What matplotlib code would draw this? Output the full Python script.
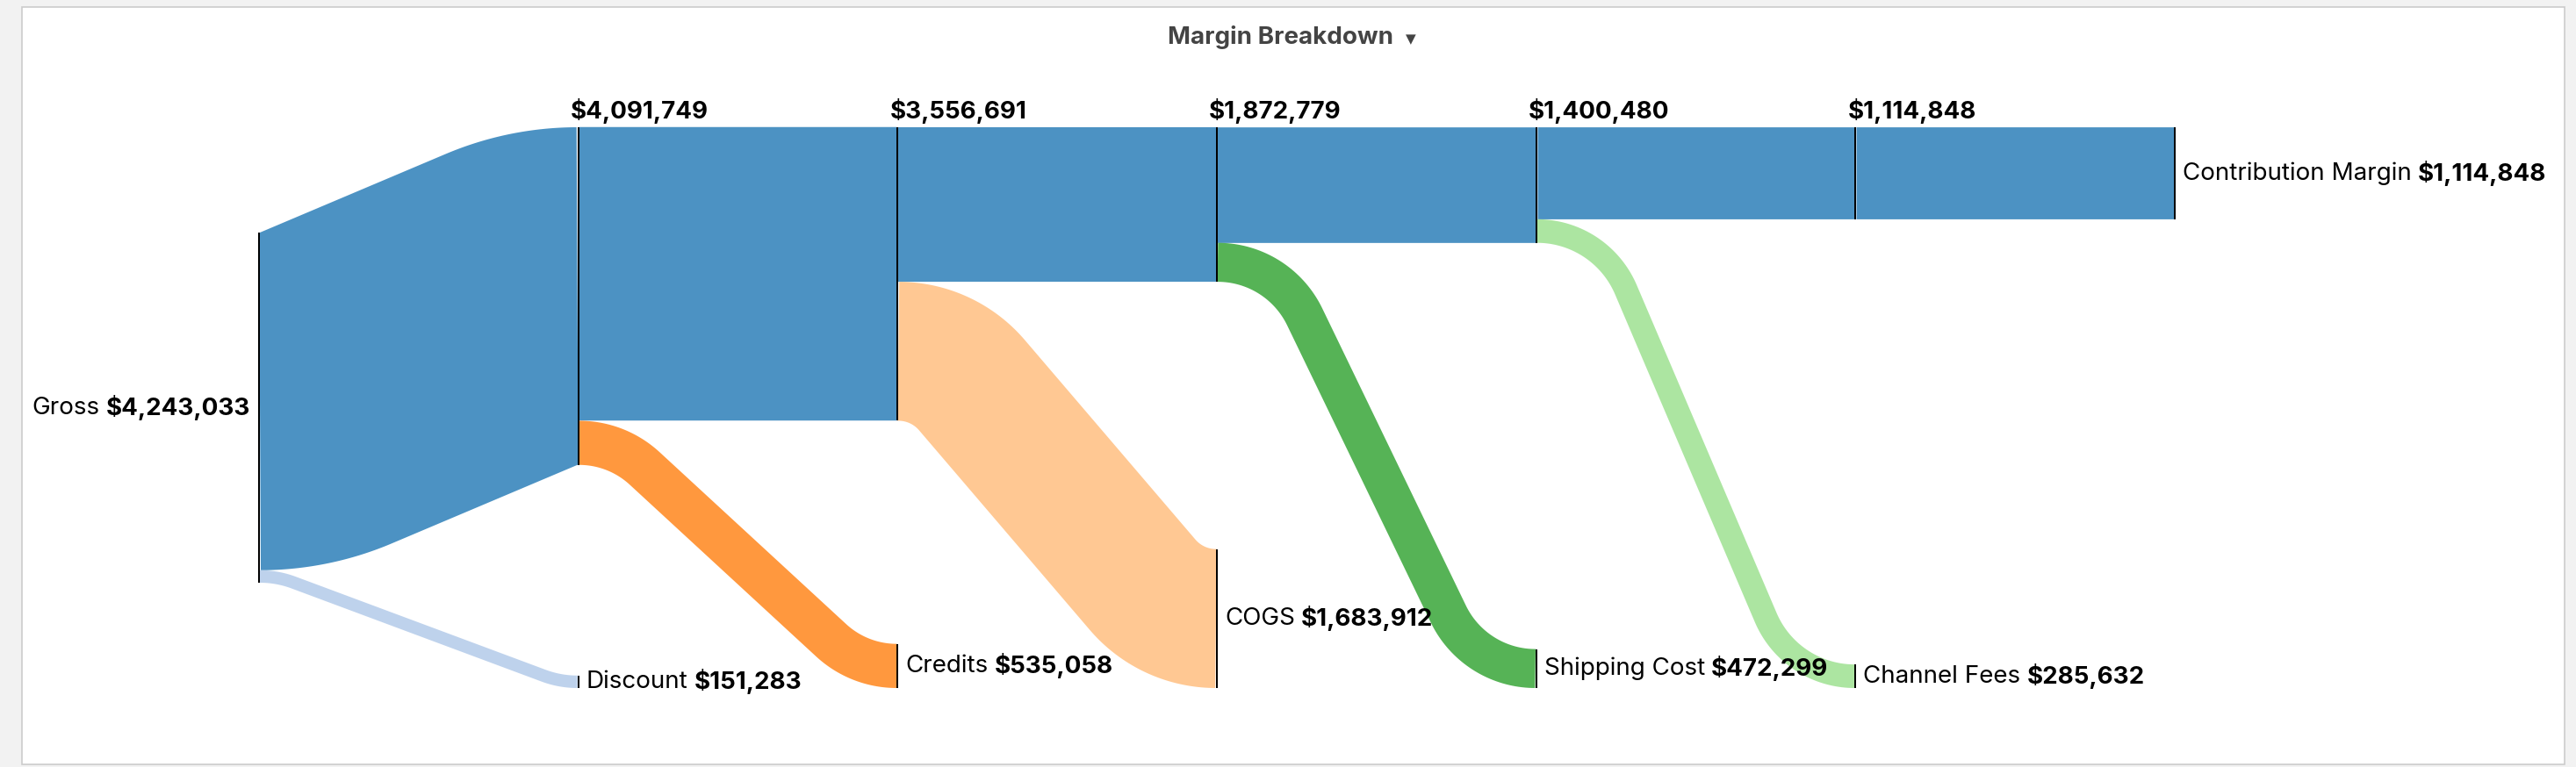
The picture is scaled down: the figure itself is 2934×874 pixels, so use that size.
import numpy as np
import matplotlib.pyplot as plt
from matplotlib.path import Path
from matplotlib.patches import PathPatch, Rectangle

plt.rcParams['font.family'] = ['Inter', 'DejaVu Sans']

# data
title = "Margin Breakdown"
gross_label = "Gross"
gross_value = 4243033
stage_values = [4091749, 3556691, 1872779, 1400480, 1114848]
loss_labels = ["Discount", "Credits", "COGS", "Shipping Cost", "Channel Fees"]
loss_values = [151283, 535058, 1683912, 472299, 285632]
final_label = "Contribution Margin"
final_value = 1114848

main_color = '#1f77b4'
loss_colors = ['#aec7e8', '#ff7f0e', '#ffbb78', '#2ca02c', '#98df8a']

W, H = 2934, 874
DPI = 100
FS = 20
R = 110   # minimum bend radius of the links, px

fig = plt.figure(figsize=(W / DPI, H / DPI), dpi=DPI, facecolor='#f2f2f2')
ax = fig.add_axes([0, 0, 1, 1])
ax.set_xlim(0, W)
ax.set_ylim(H, 0)
ax.axis('off')

# white panel
ax.add_patch(Rectangle((25, 8), 2896, 863, facecolor='white', edgecolor='#cccccc', lw=1.2))

top, bottom = 145, 784
scale = 399 / gross_value   # pixels per dollar
ncol = len(stage_values) + 2
col_x = np.linspace(295, 2477, ncol)


def money(v):
    return "${:,}".format(v)


def arc_pts(c, r, p, q, n=40):
    a0 = np.arctan2(p[1] - c[1], p[0] - c[0])
    a1 = np.arctan2(q[1] - c[1], q[0] - c[0])
    d = (a1 - a0 + np.pi) % (2 * np.pi) - np.pi
    a = a0 + d * np.linspace(0, 1, n)
    return np.column_stack([c[0] + r * np.cos(a), c[1] + r * np.sin(a)])


def link(x0, ya, yb, x1, yc, yd, color):
    # stroked band: arc off the source, straight run, arc into the target
    w = yb - ya
    r = max(R, w / 2)
    p0 = np.array([x0, (ya + yb) / 2])
    p1 = np.array([x1, (yc + yd) / 2])
    if abs(p1[1] - p0[1]) < 0.5:
        pts = np.array([p0, p1])
    else:
        s = np.sign(p1[1] - p0[1])
        c0 = p0 + [0, s * r]
        c1 = p1 - [0, s * r]
        m = (c0 + c1) / 2
        dc = c1 - c0
        half = np.hypot(*dc) / 2
        phi = np.arctan2(dc[1], dc[0]) + s * np.arcsin(min(1.0, r / half))
        u = np.array([np.cos(phi), np.sin(phi)])
        t0 = m + np.dot(c0 - m, u) * u
        t1 = m + np.dot(c1 - m, u) * u
        pts = np.vstack([arc_pts(c0, r, p0, t0), arc_pts(c1, r, t1, p1)])
    path = Path(pts)
    ax.add_patch(PathPatch(path, fill=False, edgecolor=color, alpha=0.8,
                           lw=w * 72 / DPI, capstyle='butt', joinstyle='round'))


def node(x, y0, y1):
    ax.add_patch(Rectangle((x - 1, y0), 2, y1 - y0, facecolor='black', edgecolor='none', zorder=3))


def label(x, y, name, value, ha='left'):
    if ha == 'left':
        t = ax.text(x, y, name, ha='left', va='center', fontsize=FS, zorder=5)
        ax.annotate(money(value), xy=(1, 0.5), xycoords=t, xytext=(7, 0),
                    textcoords='offset pixels', ha='left', va='center',
                    fontsize=FS, fontweight='bold', zorder=5)
    else:
        t = ax.text(x, y, money(value), ha='right', va='center', fontsize=FS,
                    fontweight='bold', zorder=5)
        ax.annotate(name, xy=(0, 0.5), xycoords=t, xytext=(-7, 0),
                    textcoords='offset pixels', ha='right', va='center',
                    fontsize=FS, zorder=5)


# gross node centred between the top and bottom rows
gh = gross_value * scale
gy0 = (top + bottom) / 2 - gh / 2
node(col_x[0], gy0, gy0 + gh)
label(col_x[0] - 10, gy0 + gh / 2, gross_label, gross_value, ha='right')

src_top = gy0
for i in range(len(stage_values)):
    x0 = col_x[i]
    x1 = col_x[i + 1]
    hm = stage_values[i] * scale
    hl = loss_values[i] * scale
    link(x0 + 1, src_top, src_top + hm, x1 - 1, top, top + hm, main_color)
    link(x0 + 1, src_top + hm, src_top + hm + hl, x1 - 1, bottom - hl, bottom, loss_colors[i])
    node(x1, top, top + hm)
    node(x1, bottom - hl, bottom)
    ax.text(x1 - 9, top - 10, money(stage_values[i]), ha='left', va='baseline',
            fontsize=FS, fontweight='bold', zorder=5)
    label(x1 + 9, bottom - hl / 2, loss_labels[i], loss_values[i])
    src_top = top

# last stage to contribution margin
hf = final_value * scale
link(col_x[-2] + 1, top, top + hf, col_x[-1] - 1, top, top + hf, main_color)
node(col_x[-1], top, top + hf)
label(col_x[-1] + 9, top + hf / 2, final_label, final_value)

# title with dropdown caret
t = ax.text(1459, 43, title, ha='center', va='center', fontsize=20,
            fontweight='bold', color='#444444')
ax.annotate("\u25BC", xy=(1, 0.5), xycoords=t, xytext=(13, -2), textcoords='offset pixels',
            ha='left', va='center', fontsize=11, color='#444444', family='DejaVu Sans')

fig.savefig('out.png', dpi=DPI, facecolor=fig.get_facecolor())
